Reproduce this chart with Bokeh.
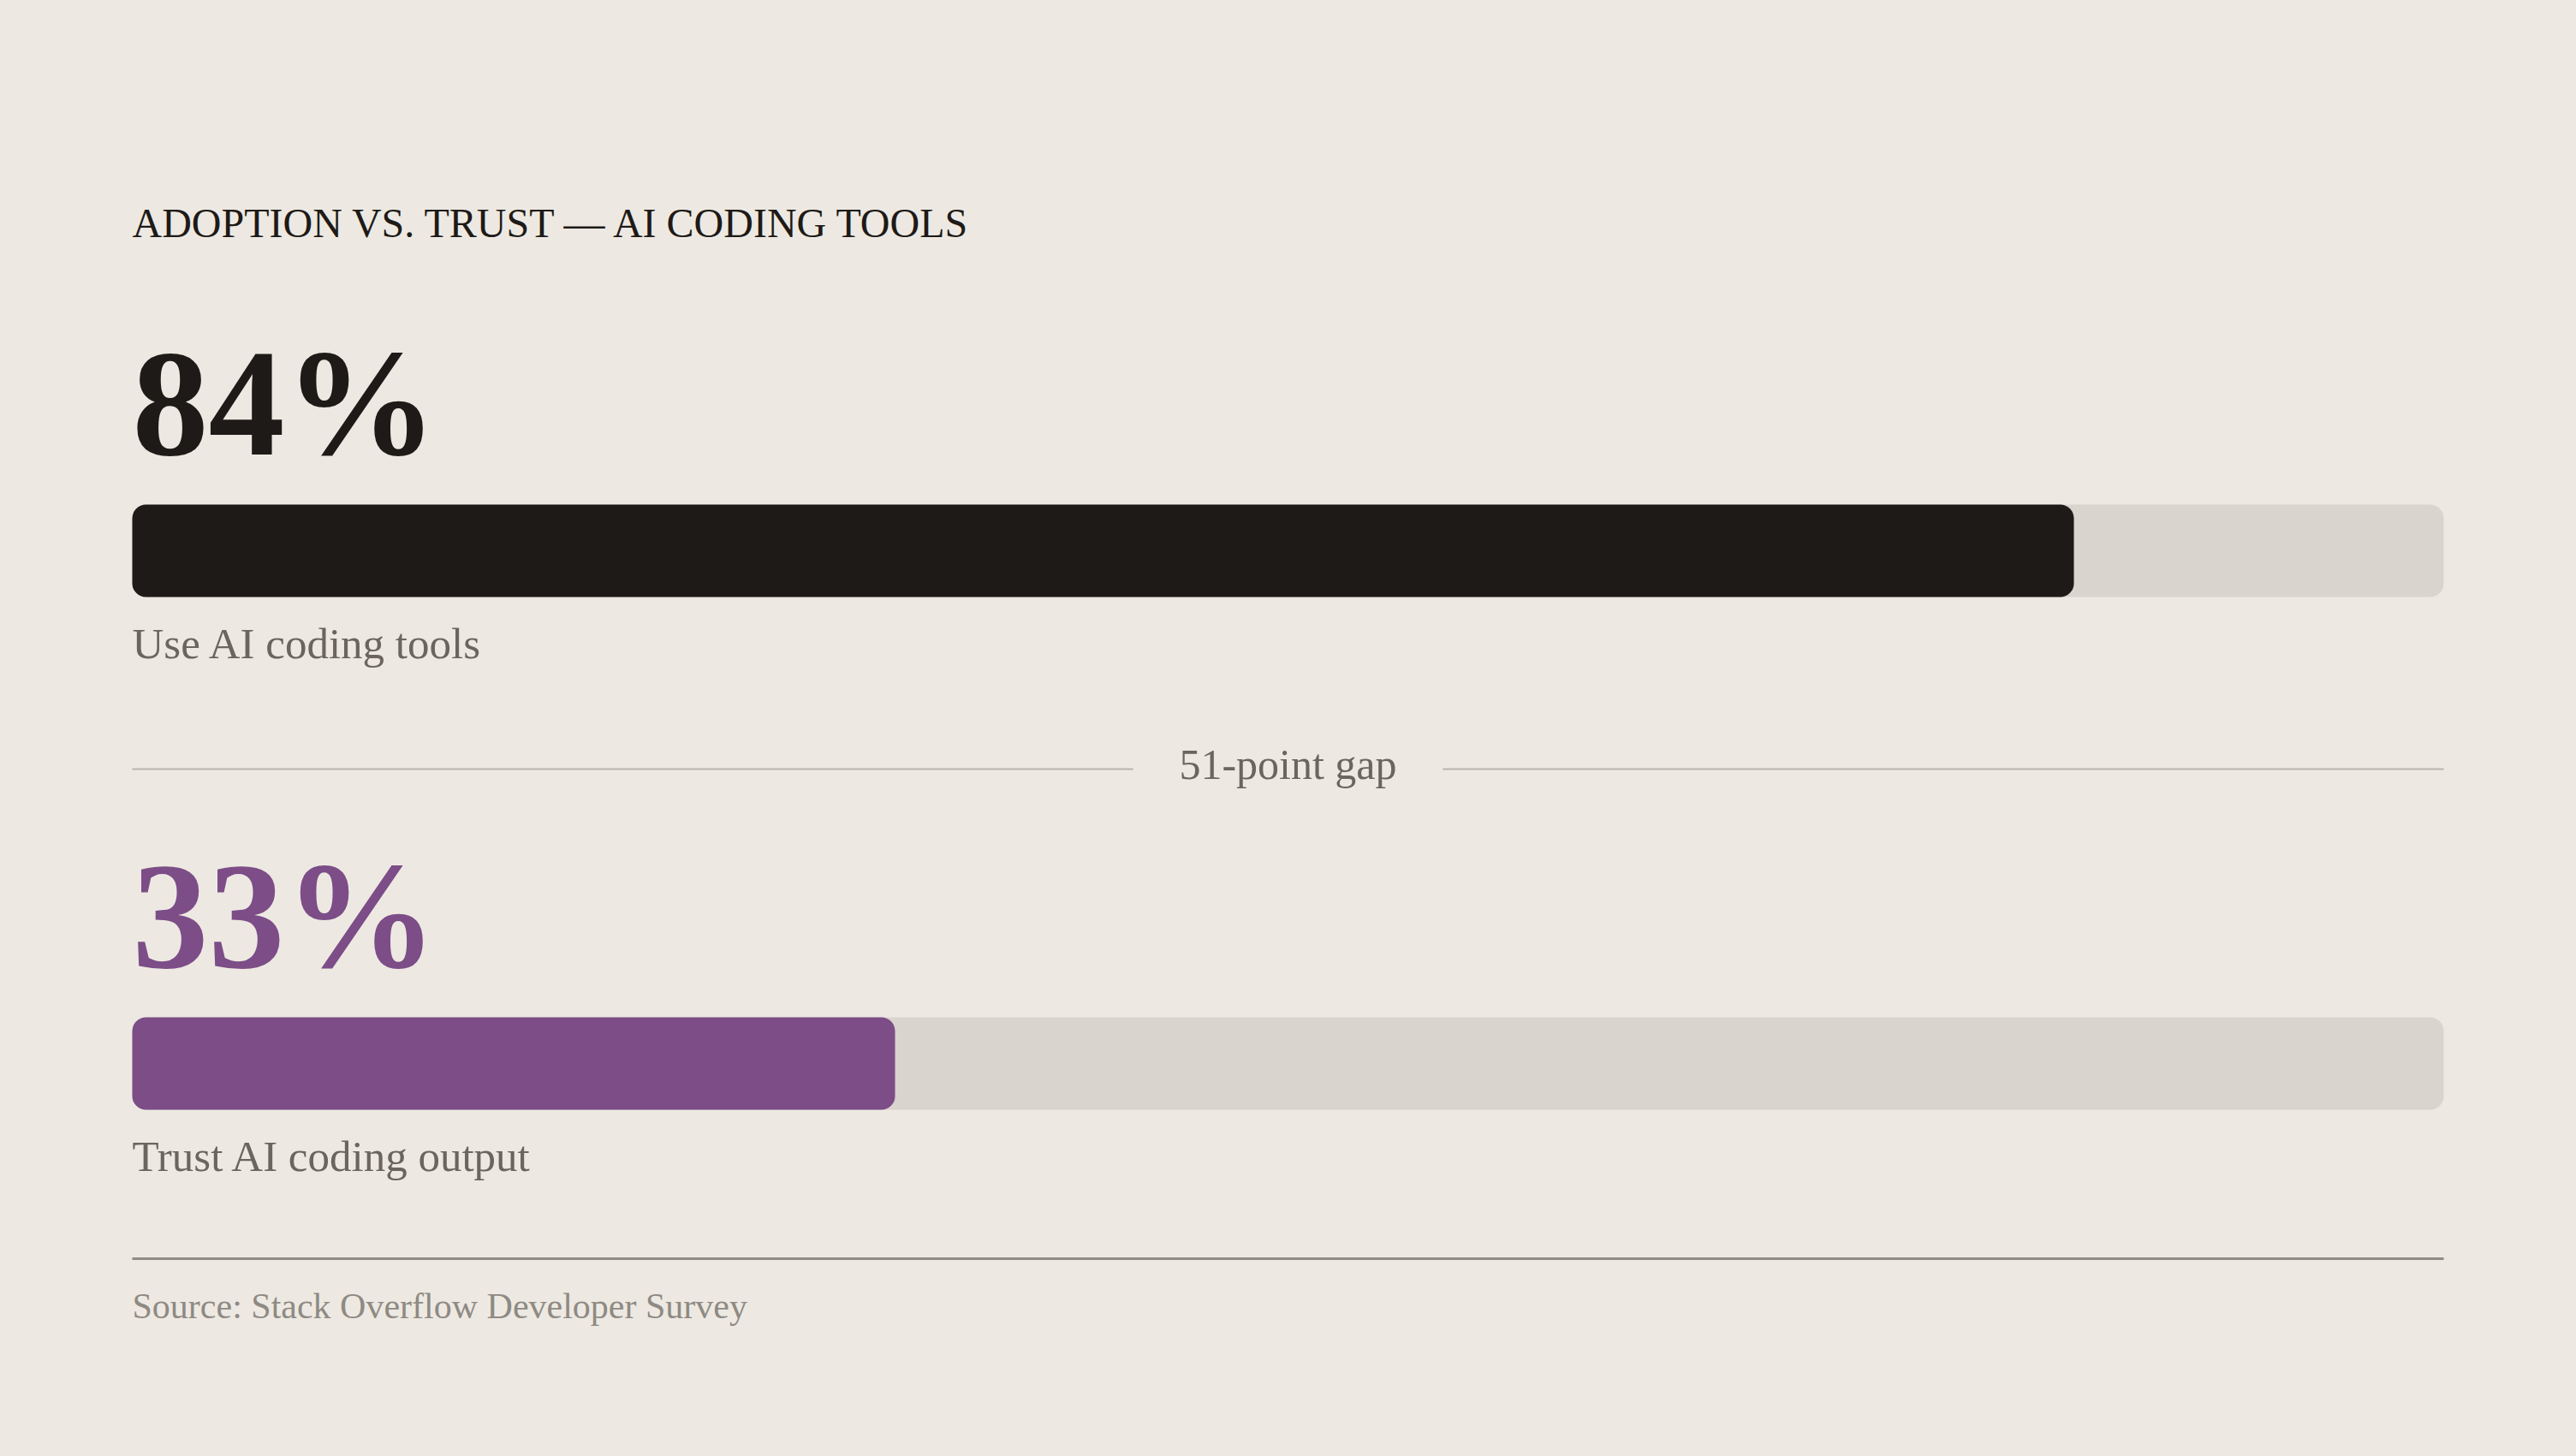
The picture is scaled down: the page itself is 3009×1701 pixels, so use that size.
from bokeh.plotting import figure
from bokeh.models import Range1d
from bokeh.core.properties import value
from bokeh.embed import file_html
from bokeh.resources import INLINE

# ---- data ----
title_text = "ADOPTION VS. TRUST — AI CODING TOOLS"
categories = ["Use AI coding tools", "Trust AI coding output"]
values = [84, 33]
bar_colors = ["#1e1a17", "#7c4d87"]
source_text = "Source: Stack Overflow Developer Survey"

# ---- style / layout ----
BG = "#ede9e2"
TRACK = "#d9d4ce"
FONT = "Liberation Serif"
W, H = 3009, 1701
PX_PER_PCT = 27.0
LEFT_PX = 154
ROW_STEP = 599
K = 0.35  # baseline correction factor (fraction of font size)


def base(y, size):
    return y - K * size


p = figure(width=W, height=H, output_backend="svg", toolbar_location=None,
           x_axis_type=None, y_axis_type=None, min_border=0,
           x_range=Range1d(-LEFT_PX / PX_PER_PCT, (W - LEFT_PX) / PX_PER_PCT),
           y_range=Range1d(H, 0))
p.xgrid.visible = False
p.ygrid.visible = False
p.outline_line_color = None
p.background_fill_color = BG
p.border_fill_color = BG

# title
p.text(x=[0], y=[base(277, 48)], text=[title_text], text_font=value(FONT),
       text_font_size=value("48px"), text_color="#1e1a17",
       text_baseline="alphabetic", text_align="left")

for i, (cat, v, c) in enumerate(zip(categories, values, bar_colors)):
    off = i * ROW_STEP
    # big number
    p.text(x=[0], y=[base(533 + off, 178)], text=[f"{v}%"], text_font=value(FONT),
           text_font_size=value("178px"), text_font_style="bold", text_color=c,
           text_baseline="alphabetic", text_align="left")
    # track and bar
    p.quad(left=[0], right=[100], top=[589 + off], bottom=[697 + off],
           fill_color=TRACK, line_color=None, border_radius=16)
    p.quad(left=[0], right=[v], top=[589 + off], bottom=[697 + off],
           fill_color=c, line_color=None, border_radius=16)
    # label
    p.text(x=[0], y=[base(769 + off, 51)], text=[cat], text_font=value(FONT),
           text_font_size=value("51px"), text_color="#6b655f",
           text_baseline="alphabetic", text_align="left")

# gap separator
gap = values[0] - values[1]
mid = 50
half_gap = 6.7
p.segment(x0=[0, mid + half_gap], x1=[mid - half_gap, 100], y0=[898, 898], y1=[898, 898],
          line_color="#bab4ad", line_width=2)
p.text(x=[mid], y=[base(910, 50)], text=[f"{gap}-point gap"], text_font=value(FONT),
       text_font_size=value("50px"), text_color="#6b655f",
       text_baseline="alphabetic", text_align="center")

# bottom rule and source
p.segment(x0=[0], x1=[100], y0=[1470], y1=[1470], line_color="#8f8b85", line_width=3)
p.text(x=[0], y=[base(1540, 42)], text=[source_text], text_font=value(FONT),
       text_font_size=value("42px"), text_color="#8f8a83",
       text_baseline="alphabetic", text_align="left")

html = file_html(p, INLINE)
html = html.replace(
    "</head>",
    f"<style>html,body{{margin:0 !important;padding:0 !important;background:{BG};overflow:hidden;}}</style></head>",
    1)
open("out.html", "w").write(html)
